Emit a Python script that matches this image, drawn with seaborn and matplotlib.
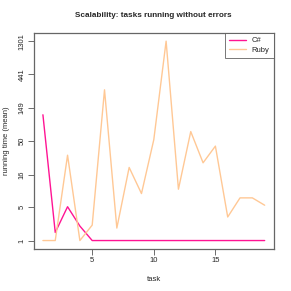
import numpy as np
import pandas as pd
import matplotlib
matplotlib.use("Agg")
import matplotlib.pyplot as plt
import seaborn as sns
from matplotlib.lines import Line2D

tasks = list(range(1, 20))
csharp = [118, 1.6, 5, 2.2, 1, 1, 1, 1, 1, 1, 1, 1, 1, 1, 1, 1, 1, 1, 1]
ruby = [1, 1, 31, 1, 2.3, 267, 2.0, 20.5, 8.2, 52, 1301, 9.6, 68, 24, 42, 3.3, 7.0, 7.0, 5.3]
ytick_vals = [1, 5, 16, 50, 149, 441, 1301]

df = pd.DataFrame({
    "task": tasks * 2,
    "time": csharp + ruby,
    "lang": ["C#"] * len(tasks) + ["Ruby"] * len(tasks),
})

sns.set_style("white")
plt.rcParams['font.family'] = ['Liberation Sans', 'DejaVu Sans']

fig = plt.figure(figsize=(2.91, 2.91), dpi=100)
ax = fig.add_axes([0.117, 0.146, 0.823, 0.740])

# log(y+1) axis, like the original
ax.set_yscale('function', functions=(np.log1p, np.expm1))

palette = {"C#": "#FF1493", "Ruby": "#FFC895"}
sns.lineplot(data=df, x="task", y="time", hue="lang", palette=palette,
             linewidth=1.0, ax=ax, legend=False)

lo, hi = np.log1p(1), np.log1p(1301)
pad = (hi - lo) * 0.04
ax.set_ylim(np.expm1(lo - pad), np.expm1(hi + pad))
ax.set_xlim(1 - 18 * 0.04, 19 + 18 * 0.04)

ax.set_yticks(ytick_vals)
ax.set_yticklabels([str(v) for v in ytick_vals], rotation=90, va='center')
ax.set_xticks([5, 10, 15])
ax.minorticks_off()
ax.tick_params(axis='both', direction='out', length=4, width=0.6,
               labelsize=5.5, color='#555555', pad=2, left=True, bottom=True)

for s in ax.spines.values():
    s.set_color('#666666')
    s.set_linewidth(0.9)

ax.set_xlabel("task", fontsize=5.5, labelpad=9)
ax.set_ylabel("running time (mean)", fontsize=5.5, labelpad=6)
ax.set_title("Scalability: tasks running without errors", fontsize=5.9,
             fontweight='bold', pad=12)

handles = [Line2D([], [], color=palette["C#"], lw=1.0),
           Line2D([], [], color=palette["Ruby"], lw=1.0)]
leg = ax.legend(handles, ["C#", "Ruby"], loc='upper right', fontsize=5.5,
                frameon=True, fancybox=False, borderaxespad=0,
                handlelength=2.2, borderpad=0.5, labelspacing=0.3)
leg.get_frame().set_edgecolor('#555555')
leg.get_frame().set_linewidth(0.7)

fig.savefig("out.png", dpi=100)
